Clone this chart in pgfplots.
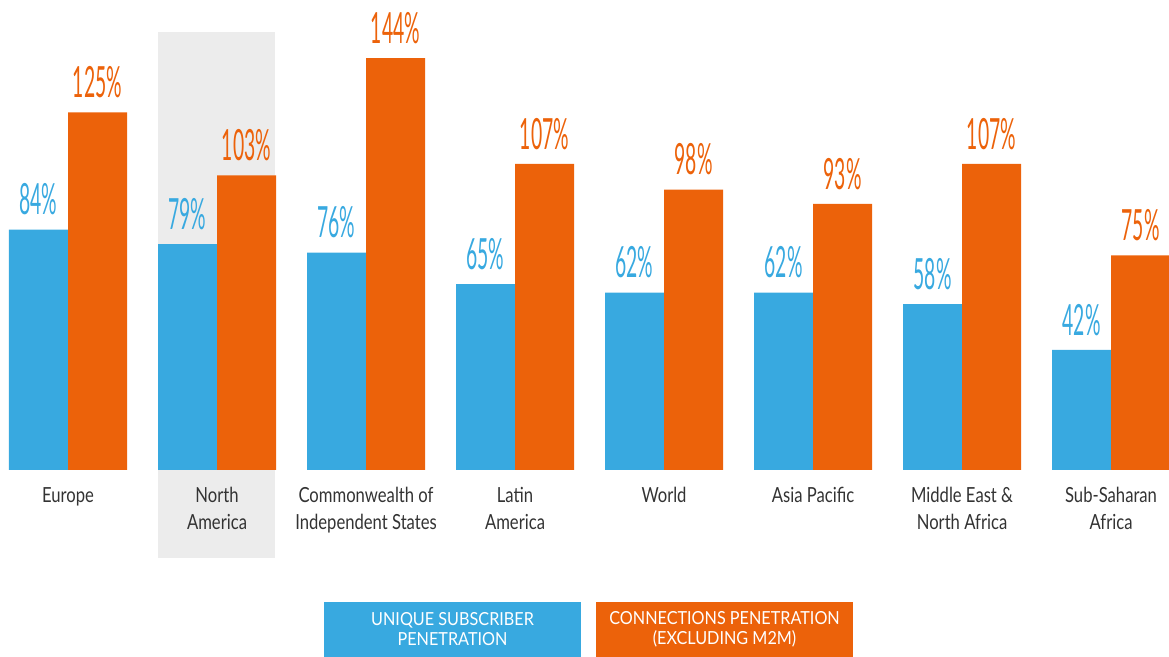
\documentclass[border=0pt]{standalone}
\usepackage{fontspec}
\setmainfont{Lato}
\newfontfamily\valfont{Lato}[FakeStretch=0.45]
\newfontfamily\labfont{Lato}[FakeStretch=0.8]
\newfontfamily\legfont{Lato}[FakeStretch=0.9]
\usepackage{pgfplots}
\pgfplotsset{compat=1.18}
\definecolor{cblue}{RGB}{56,169,224}
\definecolor{corange}{RGB}{236,98,10}
\definecolor{cgrey}{RGB}{236,236,236}
\definecolor{ctext}{RGB}{51,51,51}
\begin{document}
\begin{tikzpicture}
\useasboundingbox (0,-93.5pt) rectangle (584.5pt,235pt);
\fill[cgrey] (79pt,-44pt) rectangle (137.5pt,219pt);
\begin{axis}[
  at={(0,0)}, anchor=south west,
  scale only axis, width=584.5pt, height=235pt,
  xmin=-0.4564, xmax=7.389, ymin=0, ymax=164.3,
  clip=false,
  axis line style={draw=none},
  ytick=\empty,
  xtick={0,1,2,3,4,5,6,7},
  xticklabels={Europe,{North\\America},{Commonwealth of\\Independent States},{Latin\\America},World,Asia Pacific,{Middle East \&\\North Africa},{Sub-Saharan\\Africa}},
  major tick length=0pt,
  xticklabel style={font=\labfont\fontsize{10.4}{13.5}\selectfont, text=ctext, align=center, anchor=north, inner sep=0pt, yshift=-8.5pt},
  ybar, bar width=0.396, bar shift=0pt,
  /pgf/number format/assume math mode=true,
  nodes near coords={\pgfmathprintnumber{\pgfplotspointmeta}\%},
  every node near coord/.append style={font=\valfont\fontsize{21.5}{22}\selectfont, anchor=south, inner sep=0pt, yshift=7pt},
]
\addplot[fill=cblue, draw=none, every node near coord/.append style={text=cblue}] coordinates {
  (-0.198,84) (0.802,79) (1.802,76) (2.802,65) (3.802,62) (4.802,62) (5.802,58) (6.802,42)};
\addplot[fill=corange, draw=none, every node near coord/.append style={text=corange}] coordinates {
  (0.198,125) (1.198,103) (2.198,144) (3.198,107) (4.198,98) (5.198,93) (6.198,107) (7.198,75)};
\node[fill=cblue, minimum width=128.5pt, minimum height=27.5pt, inner sep=0pt, text=white, align=center, font=\legfont\fontsize{9}{10}\selectfont] at (axis cs:2.5805,-55.77) {UNIQUE SUBSCRIBER\\PENETRATION};
\node[fill=corange, minimum width=128.5pt, minimum height=27.5pt, inner sep=0pt, text=white, align=center, font=\legfont\fontsize{9}{10}\selectfont] at (axis cs:4.406,-55.77) {CONNECTIONS PENETRATION\\(EXCLUDING M2M)};
\end{axis}
\end{tikzpicture}
\end{document}
